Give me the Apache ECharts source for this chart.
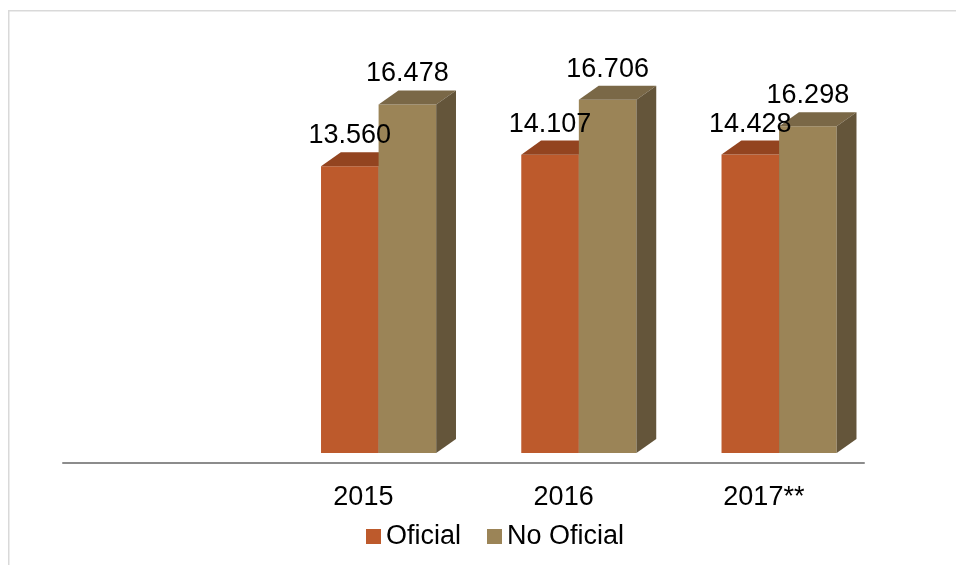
<!DOCTYPE html>
<html>
<head>
<meta charset="utf-8">
<script src="https://cdn.jsdelivr.net/npm/echarts@6/dist/echarts.min.js"></script>
<style>html,body{margin:0;padding:0;background:#fff;}#c{width:956px;height:565px;}</style>
</head>
<body>
<div id="c"></div>
<script>
// Categories (first slot is empty in the original chart)
var categories = ['', '2015', '2016', '2017**'];
// Bar heights as drawn in the picture
var oficial = [null, 13560, 14107, 14110];
var noOficial = [null, 16478, 16706, 15450];
// Data label texts as printed on the picture
var oficialLabels = ['', '13.560', '14.107', '14.428'];
var noOficialLabels = ['', '16.478', '16.706', '16.298'];
var seriesNames = ['Oficial', 'No Oficial'];

var FONT = '"Liberation Sans", Arial, Helvetica, sans-serif';
var palette = {
  'Oficial': { front: '#BD5A2C', top: '#934420', side: '#6E3318' },
  'No Oficial': { front: '#9B8457', top: '#7A6847', side: '#64553A' }
};

function toData(arr) {
  var out = [];
  arr.forEach(function (v, i) { if (v !== null) out.push([i, v]); });
  return out;
}

function makeRender(name, idx, labels) {
  return function (params, api) {
    var ci = api.value(0);
    var v = api.value(1);
    var c = api.coord([ci, v]);
    var b = api.coord([ci, 0]);
    var bandW = api.size([1, 0])[0];
    var barW = bandW * 0.2875;
    var shift = bandW * 0.076;
    var dx = bandW * 0.099;
    var dy = -bandW * 0.07;
    var x0 = idx === 0 ? c[0] + shift - barW : c[0] + shift;
    var x1 = x0 + barW;
    var yT = c[1], yB = b[1];
    var col = palette[name];
    var zf = idx;
    return {
      type: 'group',
      children: [
        { type: 'rect', shape: { x: x0, y: yT, width: barW, height: yB - yT }, style: { fill: col.front }, z2: zf },
        { type: 'polygon', shape: { points: [[x0, yT], [x0 + dx, yT + dy], [x1 + dx, yT + dy], [x1, yT]] }, style: { fill: col.top }, z2: zf },
        { type: 'polygon', shape: { points: [[x1, yT], [x1 + dx, yT + dy], [x1 + dx, yB + dy], [x1, yB]] }, style: { fill: col.side }, z2: zf },
        { type: 'text', z2: 10, style: { text: labels[ci], x: (x0 + x1) / 2, y: yT + dy - 3, align: 'center', verticalAlign: 'bottom', fill: '#000', font: '27px ' + FONT } }
      ]
    };
  };
}

var chart = echarts.init(document.getElementById('c'));
chart.setOption({
  animation: false,
  backgroundColor: '#fff',
  graphic: [{
    type: 'rect', silent: true,
    shape: { x: 8.75, y: 10.75, width: 1200, height: 1000 },
    style: { fill: 'none', stroke: '#D9D9D9', lineWidth: 1.5 }
  }],
  grid: { left: 63, right: 92, top: 30, bottom: 112, containLabel: false },
  legend: {
    left: 361, top: 518,
    itemWidth: 15, itemHeight: 15, itemGap: 26,
    textStyle: { fontSize: 27, color: '#000', fontFamily: FONT },
    data: [
      { name: 'Oficial', icon: 'rect', itemStyle: { color: palette['Oficial'].front } },
      { name: 'No Oficial', icon: 'rect', itemStyle: { color: palette['No Oficial'].front } }
    ]
  },
  xAxis: {
    type: 'category', data: categories, offset: 10,
    axisLine: { show: true, onZero: false, lineStyle: { color: '#8C8C8C', width: 2 } },
    axisTick: { show: false },
    axisLabel: { margin: 21, fontSize: 27, color: '#000', fontFamily: FONT, interval: 0 },
    splitLine: { show: false }
  },
  yAxis: { type: 'value', min: 0, max: 20000, show: false, splitLine: { show: false } },
  series: [
    { name: seriesNames[0], type: 'custom', itemStyle: { color: palette['Oficial'].front }, encode: { x: 0, y: 1 }, data: toData(oficial), renderItem: makeRender('Oficial', 0, oficialLabels) },
    { name: seriesNames[1], type: 'custom', itemStyle: { color: palette['No Oficial'].front }, encode: { x: 0, y: 1 }, data: toData(noOficial), renderItem: makeRender('No Oficial', 1, noOficialLabels) }
  ]
});
</script>
</body>
</html>
